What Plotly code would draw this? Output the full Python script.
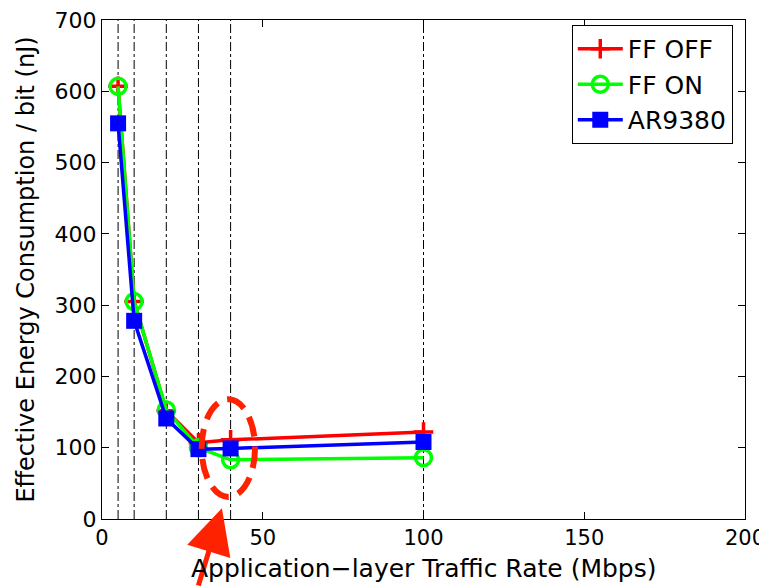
import plotly.graph_objects as go

rates = [5, 10, 20, 30, 40, 100]
ff_off = [607, 305, 152, 107, 111, 122]
ff_on = [607, 305, 153, 100, 83, 86]
ar9380 = [555, 278, 141, 98, 99, 108]
x_ticks = [0, 50, 100, 150, 200]
y_ticks = [0, 100, 200, 300, 400, 500, 600, 700]

FONT = "DejaVu Sans, Liberation Sans, sans-serif"

fig = go.Figure()

# dash-dot verticals at measured rates
for r in rates:
    fig.add_shape(type="line", x0=r, x1=r, y0=0, y1=700, xref="x", yref="y",
                  line=dict(color="black", width=1, dash="dashdot"), layer="below")

fig.add_trace(go.Scatter(x=rates, y=ff_off, name="FF OFF", mode="lines+markers",
                         line=dict(color="#ff0000", width=3.5),
                         marker=dict(symbol="cross-thin", size=14, line=dict(color="#ff0000", width=3.5))))
fig.add_trace(go.Scatter(x=rates, y=ff_on, name="FF ON", mode="lines+markers",
                         line=dict(color="#00ff00", width=3.5),
                         marker=dict(symbol="circle-open", size=16, line=dict(color="#00ff00", width=3.5))))
fig.add_trace(go.Scatter(x=rates, y=ar9380, name="AR9380", mode="lines+markers",
                         line=dict(color="#0000ff", width=3.5),
                         marker=dict(symbol="square", size=16, color="#0000ff")))

# highlight ellipse
fig.add_shape(type="circle", xref="x", yref="y", x0=31, x1=47.6, y0=31, y1=168,
              line=dict(color="#ff2200", width=6, dash="20px,10px"))

# arrow
fig.add_annotation(x=37.3, y=15, xref="x", yref="y", ax=-24, ay=92, axref="pixel", ayref="pixel",
                   text="", showarrow=True, arrowhead=2, arrowsize=1.8, arrowwidth=5,
                   arrowcolor="#ff2200")

# x-axis title placed as an annotation for precise vertical position
fig.add_annotation(x=0.5, y=-0.1, xref="paper", yref="paper", xanchor="center", yanchor="middle",
                   text="Application\u2212layer Traffic Rate (Mbps)", showarrow=False,
                   font=dict(size=25, family=FONT))

# page body has an 8px default margin, so the figure is sized/offset accordingly
fig.update_layout(
    width=759, height=579,
    margin=dict(l=94, r=22, t=12, b=68),
    paper_bgcolor="white", plot_bgcolor="white",
    font=dict(family=FONT, size=24, color="black"),
    showlegend=True,
    legend=dict(x=0.981, y=0.99, xanchor="right", yanchor="top",
                bordercolor="black", borderwidth=1, bgcolor="white",
                font=dict(size=25), tracegroupgap=0, itemwidth=45),
    xaxis=dict(range=[0, 200], tickvals=x_ticks, ticks="inside", ticklen=7, tickcolor="black",
               showline=True, linecolor="black", linewidth=1, mirror="ticks", showgrid=False,
               zeroline=False, automargin=False, tickfont=dict(size=21),
               ticklabeloverflow="allow"),
    yaxis=dict(range=[0, 700], tickvals=y_ticks, ticks="inside", ticklen=7, tickcolor="black",
               showline=True, linecolor="black", linewidth=1, mirror="ticks", showgrid=False,
               zeroline=False, automargin=False, tickfont=dict(size=22),
               ticklabeloverflow="allow",
               title=dict(text="Effective Energy Consumption / bit (nJ)", standoff=13,
                          font=dict(size=24))),
)

fig.write_html("out.html")
